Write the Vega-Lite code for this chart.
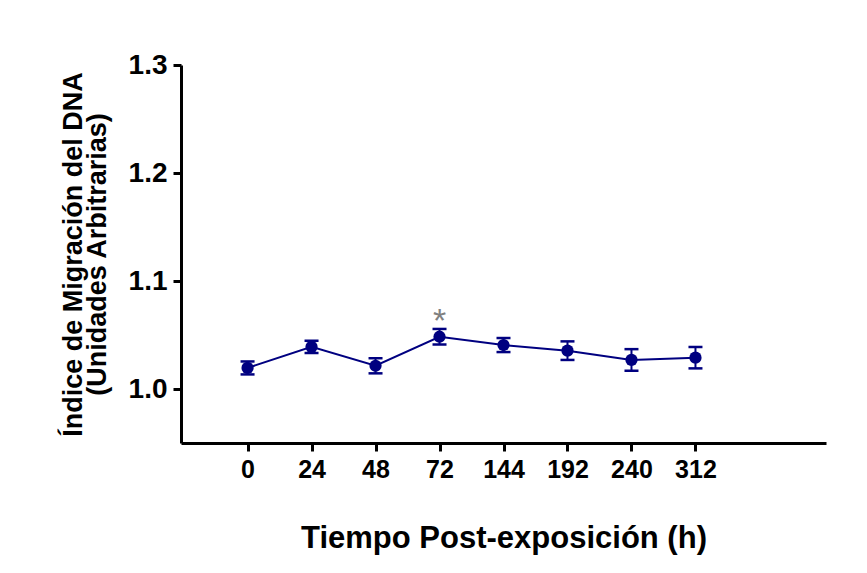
{
  "$schema": "https://vega.github.io/schema/vega-lite/v6.json",
  "width": 645,
  "height": 378,
  "autosize": {"type": "none"},
  "padding": {"left": 181, "top": 65, "right": 41, "bottom": 130},
  "background": "#ffffff",
  "config": {
    "view": {"stroke": null},
    "axis": {"grid": false, "domainColor": "#000000", "domainWidth": 3, "tickColor": "#000000", "tickWidth": 3, "tickSize": 8, "labelColor": "#000000", "titleColor": "#000000", "labelFont": "Liberation Sans", "titleFont": "Liberation Sans", "labelFontWeight": "bold", "titleFontWeight": "bold"}
  },
  "data": {
    "values": [
      {"t": "0", "mean": 1.0195, "err": 0.006, "sig": ""},
      {"t": "24", "mean": 1.039, "err": 0.0056, "sig": ""},
      {"t": "48", "mean": 1.0215, "err": 0.007, "sig": ""},
      {"t": "72", "mean": 1.0484, "err": 0.0072, "sig": "*"},
      {"t": "144", "mean": 1.0407, "err": 0.0065, "sig": ""},
      {"t": "192", "mean": 1.0355, "err": 0.0086, "sig": ""},
      {"t": "240", "mean": 1.0269, "err": 0.01, "sig": ""},
      {"t": "312", "mean": 1.029, "err": 0.0099, "sig": ""}
    ]
  },
  "encoding": {
    "x": {
      "field": "t", "type": "ordinal",
      "scale": {"type": "point", "domain": ["_a", "0", "24", "48", "72", "144", "192", "240", "312", "_b", "_c"], "padding": 0.04},
      "axis": {"values": ["0", "24", "48", "72", "144", "192", "240", "312"], "labelAngle": 0, "labelFontSize": 25, "labelPadding": 6, "title": "Tiempo Post-exposición (h)", "titleFontSize": 31, "titlePadding": 41}
    },
    "y": {
      "field": "mean", "type": "quantitative",
      "scale": {"domain": [0.95, 1.3], "nice": false, "zero": false},
      "axis": {"values": [1.0, 1.1, 1.2, 1.3], "format": ".1f", "labelFontSize": 28, "labelPadding": 6, "title": ["Índice de Migración del DNA", "(Unidades Arbitrarias)"], "titleFontSize": 27, "titleLineHeight": 24, "titlePadding": 17}
    }
  },
  "layer": [
    {"mark": {"type": "line", "color": "#000080", "strokeWidth": 2}},
    {"mark": {"type": "errorbar", "color": "#000080", "opacity": 1, "thickness": 2, "ticks": {"size": 14, "thickness": 2.5, "color": "#000080", "opacity": 1}, "rule": {"opacity": 1}}, "encoding": {"yError": {"field": "err"}}},
    {"mark": {"type": "circle", "color": "#000080", "opacity": 1, "size": 150}},
    {"mark": {"type": "text", "color": "#808080", "fontSize": 34, "font": "Liberation Sans", "baseline": "middle", "dy": -15}, "encoding": {"text": {"field": "sig"}}}
  ]
}
